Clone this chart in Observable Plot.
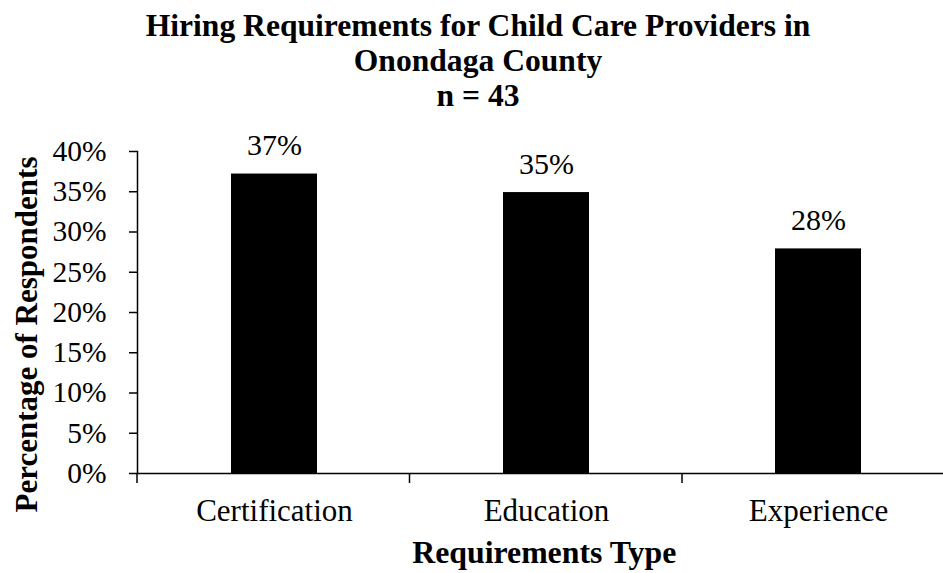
<!DOCTYPE html>
<html>
<head>
<meta charset="utf-8">
<script src="https://cdn.jsdelivr.net/npm/d3@7"></script>
<script src="https://cdn.jsdelivr.net/npm/@observablehq/plot@0.6"></script>
<style>
  body { margin: 0; background: #fff; }
  #wrap { position: relative; width: 943px; height: 573px; overflow: hidden; background: #fff;
          font-family: "Liberation Serif", "Times New Roman", serif; color: #000; }
  #title { position: absolute; left: 0; top: 8px; width: 956px; text-align: center;
           font-weight: bold; font-size: 31.6px; line-height: 35px; }
  #chart { position: absolute; left: 0; top: 0; }
  #chart svg, #chart svg text, #chart svg g { font-family: "Liberation Serif", "Times New Roman", serif !important; }
</style>
</head>
<body>
<div id="wrap">
  <div id="chart"></div>
  <div id="title"></div>
</div>
<script>
// ---- data ----
const titleLines = ["Hiring Requirements for Child Care Providers in", "Onondaga County", "n = 43"];
const categories = ["Certification", "Education", "Experience"];
const shares = [0.372, 0.349, 0.279];
const yTicks = [0, 0.05, 0.10, 0.15, 0.20, 0.25, 0.30, 0.35, 0.40];
const yLabel = "Percentage of Respondents";
const xLabel = "Requirements Type";

const data = categories.map((c, i) => ({category: c, share: shares[i]}));
const pct = d3.format(".0%");
const serif = '"Liberation Serif", "Times New Roman", serif';

document.getElementById("title").innerHTML = titleLines.join("<br>");

// tick marks at the boundaries between categories (Excel style)
function boundaryTicks(index, scales, values, dim) {
  const g = d3.create("svg:g");
  const n = categories.length;
  const x0 = dim.marginLeft, x1 = dim.width - dim.marginRight;
  const y0 = scales.y(0);
  for (let i = 0; i <= n; i++) {
    const x = x0 + i * (x1 - x0) / n;
    g.append("line").attr("x1", x).attr("x2", x).attr("y1", y0).attr("y2", y0 + 10)
      .attr("stroke", "#000").attr("stroke-width", 1.5);
  }
  return g.node();
}

const chart = Plot.plot({
  width: 943,
  height: 573,
  marginLeft: 137,
  marginRight: -11.5,
  marginTop: 151,
  marginBottom: 100,
  style: `font-family: ${serif}; font-size: 30px; color: #000; background: #fff; overflow: visible;`,
  x: {domain: categories, paddingInner: 0.684, paddingOuter: 0.342, label: null},
  y: {domain: [0, 0.4], label: null},
  marks: [
    Plot.barY(data, {x: "category", y: "share", fill: "#000"}),
    Plot.axisY({ticks: yTicks, tickFormat: pct, tickSize: 8, tickPadding: 23, fontSize: 29.5, fontFamily: serif, strokeWidth: 1.5, label: null}),
    Plot.axisX({tickSize: 0, tickPadding: 25, fontSize: 31, fontFamily: serif, label: null}),
    Plot.frame({anchor: "left", stroke: "#000", strokeWidth: 1.5}),
    Plot.ruleY([0], {stroke: "#000", strokeWidth: 1.5}),
    boundaryTicks,
    Plot.text(data, {x: "category", y: "share", text: d => pct(d.share), lineAnchor: "bottom", dy: -19, fontSize: 30, fontFamily: serif, fill: "#000"}),
    Plot.text([yLabel], {frameAnchor: "left", textAnchor: "middle", rotate: -90, dx: -110, dy: 22, fontSize: 31, fontWeight: "bold", fontFamily: serif, fill: "#000"}),
    Plot.text([xLabel], {frameAnchor: "bottom", textAnchor: "middle", dy: 89, dx: -2, fontSize: 31.8, fontWeight: "bold", fontFamily: serif, fill: "#000"})
  ]
});
document.getElementById("chart").appendChild(chart);
</script>
</body>
</html>
